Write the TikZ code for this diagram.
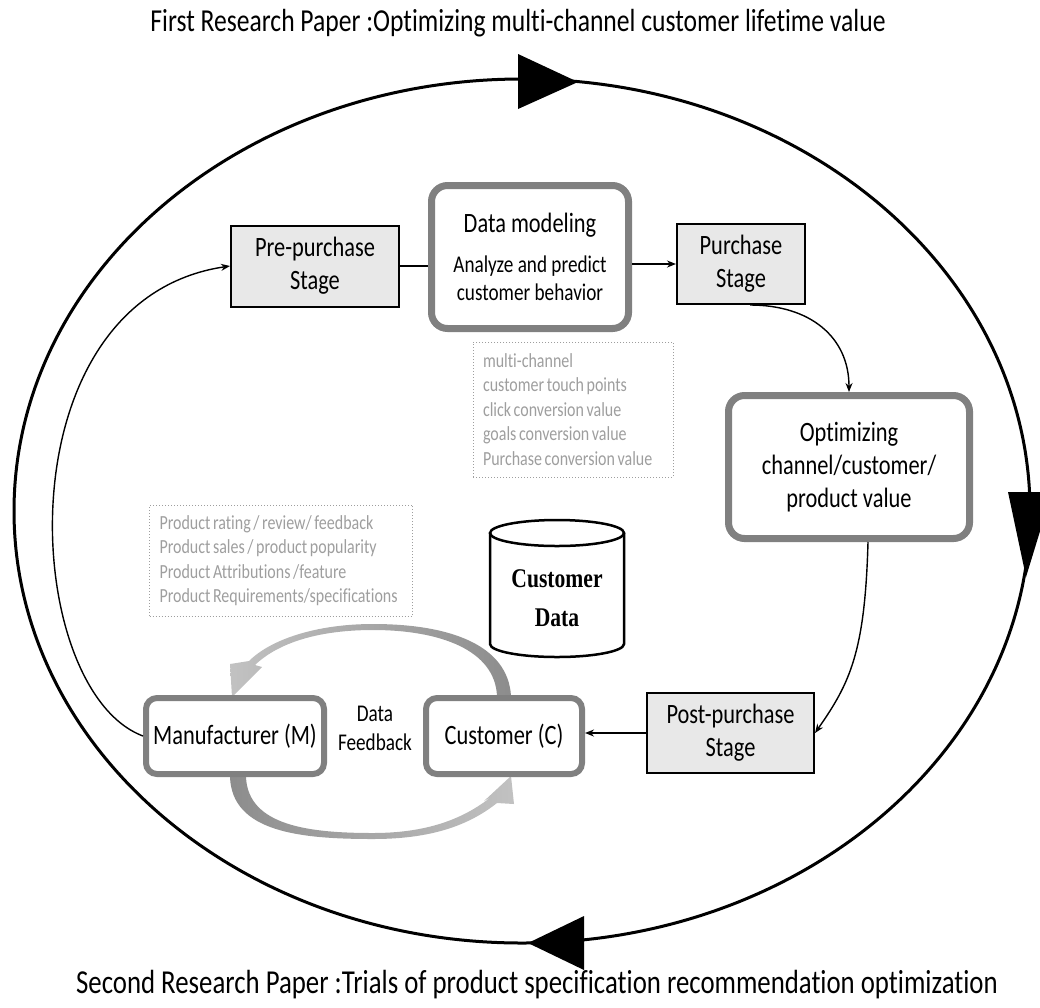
\documentclass[tikz,border=0pt]{standalone}
\usepackage{fontspec}
\setmainfont{Carlito}[FakeStretch=0.8, Ligatures=NoCommon]
\newfontfamily\notefont{Carlito}[FakeStretch=0.8, Ligatures=NoCommon]
\newfontfamily\cylfont{Liberation Serif}[FakeStretch=0.8]
\usetikzlibrary{arrows.meta}
\pgfdeclarelayer{background}
\pgfsetlayers{background,main}

\definecolor{stagefill}{gray}{0.91}
\definecolor{frame}{gray}{0.5}
\definecolor{notegray}{gray}{0.62}
\definecolor{fbdark}{gray}{0.55}
\definecolor{fblight}{gray}{0.76}

\newcommand{\tightspaces}{\spaceskip=2.6pt\relax}

\begin{document}
\begin{tikzpicture}[x=1pt,y=-1pt,
  stagebox/.style={draw=black, line width=2pt, fill=stagefill, align=center,
    inner sep=0pt, font=\fontsize{28}{33}\selectfont},
  roundbox/.style={draw=frame, line width=7pt, rounded corners=16pt, fill=white,
    align=center, inner sep=0pt, font=\fontsize{28}{33}\selectfont},
  actorbox/.style={draw=frame, line width=6pt, rounded corners=11pt, fill=white,
    align=center, inner sep=0pt, font=\fontsize{28}{33}\selectfont},
  notebox/.style={draw=notegray, dotted, line width=1pt, text=notegray, align=left,
    inner xsep=10pt, inner ysep=0pt,
    font=\notefont\fontsize{20}{24.5}\selectfont},
  link/.style={line width=1.4pt, -{Stealth[length=9pt,width=7pt]}},
  plainlink/.style={line width=1.4pt},
  orbit/.style={line width=3pt},
  heading/.style={font=\fontsize{32}{36}\selectfont, inner sep=0pt},
]
\useasboundingbox (0,0) rectangle (1040,1007);

% headings
\node[heading] (paper1) at (518,23) {First Research Paper :Optimizing multi-channel customer lifetime value};
\node[heading, font=\fontsize{33.5}{38}\selectfont] (paper2) at (537,985) {Second Research Paper :Trials of product specification recommendation optimization};

% outer research cycle
\coordinate (cycle) at (522,511);
\draw[orbit] (cycle) ellipse [x radius=508, y radius=432];
\fill (518,54) -- (578,82) -- (518,109) -- cycle;
\fill (1008,492) -- (1052,492) -- (1026,577) -- cycle;
\fill (584,916) -- (528,943) -- (584,970) -- cycle;

% process stages
\node[stagebox, minimum width=168pt, minimum height=81pt] (pre) at (315,266) {Pre-purchase\\Stage};
\node[roundbox, minimum width=197pt, minimum height=143pt,
      font=\fontsize{24}{28}\selectfont] (dm) at (530,257)
  {{\fontsize{28}{28}\selectfont Data modeling}\\[12pt]Analyze and predict\\customer behavior};
\node[stagebox, minimum width=128pt, minimum height=80pt] (pur) at (741,264) {Purchase\\Stage};
\node[roundbox, minimum width=241pt, minimum height=143pt] (opt) at (849,467)
  {Optimizing\\channel/customer/\\product value};
\node[stagebox, minimum width=167pt, minimum height=80pt] (post) at (730.5,733) {Post-purchase\\Stage};
\node[actorbox, minimum width=178pt, minimum height=76pt] (manu) at (235,736) {Manufacturer (M)};
\node[actorbox, minimum width=156pt, minimum height=76pt] (cust) at (504,736) {Customer (C)};
\node[font=\fontsize{24}{29}\selectfont, align=center] (fb) at (375,728) {Data\\Feedback};

% notes
\node[notebox, text width=180pt, minimum height=135pt] (chan) at (573,409.5)
  {\tightspaces multi-channel\\customer touch points\\click conversion value\\goals conversion value\\Purchase conversion value};
\node[notebox, text width=243pt, minimum height=111pt] (prod) at (281,560.5)
  {\tightspaces Product rating / review/ feedback\\Product sales / product popularity\\Product Attributions /feature\\Product Requirements/specifications};

% customer data store
\draw[line width=2.5pt, fill=white] (490,533) -- (490,644)
  arc[start angle=180, end angle=0, x radius=67, y radius=13] -- (624,533);
\draw[line width=2.5pt] (557,533) ellipse [x radius=67, y radius=13];
\node[font=\cylfont\bfseries\fontsize{27}{39}\selectfont, align=center] (cdata) at (557,598) {Customer\\Data};

% flow connectors
\draw[plainlink] (pre.east) -- (pre.east -| dm.west);
\draw[link] (pur.west -| dm.east) -- (pur.west);
\draw[link] ([xshift=9pt]pur.south) .. controls +(60,0) and +(0,-55) .. (opt.north);
\draw[link] ([xshift=19pt]opt.south) .. controls +(-3,110) and +(35,-50) .. (post.east);
\draw[link] (post.west) -- (post.west -| cust.east);
\draw[link] (manu.west) .. controls (20,690) and (0,300) .. (pre.west);

% feedback loop between manufacturer and customer
\begin{pgfonlayer}{background}
\shade[left color=fblight, right color=fbdark]
  (511,696) .. controls (508,645) and (450,624) .. (373,624)
  .. controls (315,624) and (270,640) .. (249,661)
  -- (230,664) -- (232,697) -- (262,667) -- (255,665)
  .. controls (278,643) and (318,630) .. (373,630)
  .. controls (440,630) and (495,650) .. (497,696) -- cycle;
\shade[left color=fbdark, right color=fblight]
  (230,777) .. controls (232,832) and (300,839) .. (373,839)
  .. controls (430,839) and (468,826) .. (497,803)
  -- (514,804) -- (511,776) -- (484,801) -- (491,797)
  .. controls (462,820) and (425,833) .. (373,833)
  .. controls (310,833) and (248,826) .. (246,777) -- cycle;
\end{pgfonlayer}
\end{tikzpicture}
\end{document}
